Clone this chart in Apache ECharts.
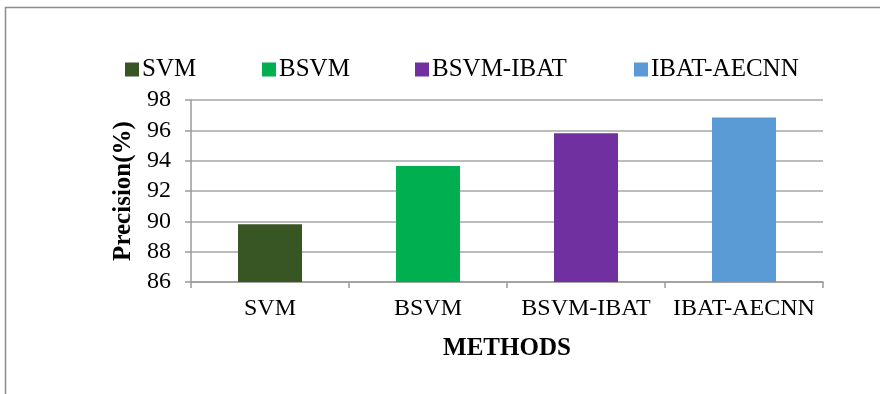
<!DOCTYPE html>
<html>
<head>
<meta charset="utf-8">
<script src="https://cdn.jsdelivr.net/npm/echarts@6/dist/echarts.min.js"></script>
<style>
  html, body { margin: 0; padding: 0; background: #fff; }
  #chart { width: 880px; height: 394px; }
</style>
</head>
<body>
<div id="chart"></div>
<script>
// Precision of each classification method
const methods = ['SVM', 'BSVM', 'BSVM-IBAT', 'IBAT-AECNN'];
const precision = [89.8, 93.65, 95.8, 96.85];
const colors = ['#375623', '#00B050', '#7030A0', '#5B9BD5'];
const yTicks = { min: 86, max: 98, interval: 2 };

const font = '"Liberation Serif", "Times New Roman", serif';
const legendLeft = [125, 262, 415, 634];

// One series per method so each gets its own legend entry; other slots are empty
const series = methods.map((name, i) => ({
  name: name,
  type: 'bar',
  stack: 'methods',
  barWidth: 64,
  itemStyle: { color: colors[i] },
  data: methods.map((_, j) => (j === i ? precision[i] : '-'))
}));

// One legend block per method, laid out in a row
const legends = methods.map((name, i) => ({
  data: [name],
  left: legendLeft[i],
  top: 57,
  padding: 0,
  itemWidth: 14,
  itemHeight: 14,
  itemGap: 0,
  icon: 'rect',
  textStyle: { fontFamily: font, fontSize: 25, color: '#000', padding: [0, 0, 0, -2] }
}));

const chart = echarts.init(document.getElementById('chart'), null, { renderer: 'canvas' });
chart.setOption({
  animation: false,
  backgroundColor: '#fff',
  textStyle: { fontFamily: font },
  graphic: [{
    type: 'rect',
    shape: { x: 5.5, y: 7.5, width: 1200, height: 1000 },
    style: { fill: 'none', stroke: '#8c8c8c', lineWidth: 1.5 },
    silent: true,
    z: -1
  }],
  legend: legends,
  grid: { left: 191, right: 57, top: 100, bottom: 112, containLabel: false },
  xAxis: {
    type: 'category',
    data: methods,
    name: 'METHODS',
    nameLocation: 'middle',
    nameGap: 54,
    nameTextStyle: { fontFamily: font, fontSize: 25, fontWeight: 'bold', color: '#000' },
    axisLine: { lineStyle: { color: '#9a9a9a', width: 1.5 } },
    axisTick: { show: true, alignWithLabel: false, length: 6, lineStyle: { color: '#9a9a9a', width: 1.5 } },
    axisLabel: { fontFamily: font, fontSize: 24, color: '#000', margin: 15, interval: 0 }
  },
  yAxis: {
    type: 'value',
    min: yTicks.min,
    max: yTicks.max,
    interval: yTicks.interval,
    name: 'Precision(%)',
    nameLocation: 'middle',
    nameGap: 55,
    nameTextStyle: { fontFamily: font, fontSize: 25, fontWeight: 'bold', color: '#000' },
    axisLine: { show: true, lineStyle: { color: '#9a9a9a', width: 1.5 } },
    axisTick: { show: true, length: 6, lineStyle: { color: '#9a9a9a', width: 1.5 } },
    axisLabel: { fontFamily: font, fontSize: 24, color: '#000', margin: 20 },
    splitLine: { show: true, lineStyle: { color: '#a6a6a6', width: 1.5 } }
  },
  series: series
});
</script>
</body>
</html>
